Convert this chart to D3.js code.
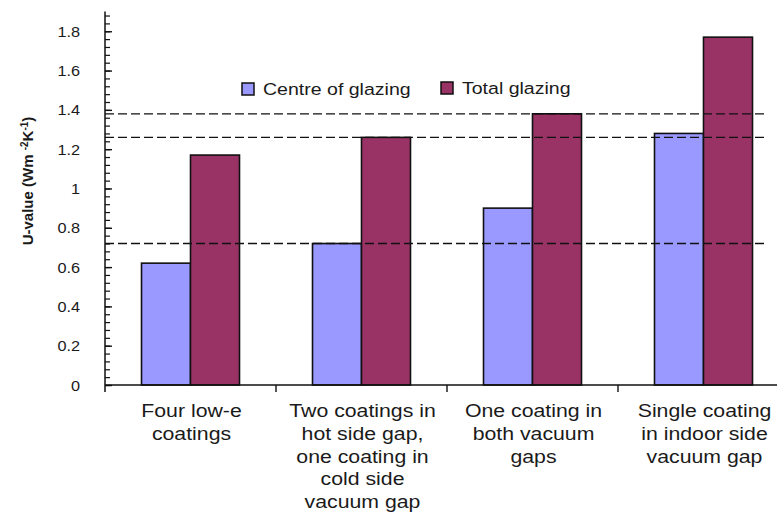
<!DOCTYPE html>
<html>
<head>
<meta charset="utf-8">
<script src="https://cdn.jsdelivr.net/npm/d3@7"></script>
<style>
  html, body { margin: 0; padding: 0; background: #fff; }
  svg { display: block; }
  text { font-family: "Liberation Sans", Arial, Helvetica, sans-serif; fill: #1a1a1a; }
</style>
</head>
<body>
<svg id="chart" width="777" height="514"></svg>
<script>
const categories = [
  ["Four low-e", "coatings"],
  ["Two coatings in", "hot side gap,", "one coating in", "cold side", "vacuum gap"],
  ["One coating in", "both vacuum", "gaps"],
  ["Single coating", "in indoor side", "vacuum gap"]
];
const seriesNames = ["Centre of glazing", "Total glazing"];
const centreValues = [0.62, 0.72, 0.90, 1.28];
const totalValues = [1.17, 1.26, 1.38, 1.77];
const referenceLines = [0.72, 1.26, 1.38];
const yTicks = [0, 0.2, 0.4, 0.6, 0.8, 1, 1.2, 1.4, 1.6, 1.8];
const colors = ["#9999FF", "#993366"];

const svg = d3.select("#chart");
const mLeft = 105, mBottom = 385, mTop = 11.6;
const catIdx = d3.range(categories.length);

const y = d3.scaleLinear().domain([0, 1.9]).range([mBottom, mTop]);
const x = d3.scaleBand().domain(catIdx).range([mLeft, mLeft + 4 * 171]).padding(0);
const xs = d3.scaleBand().domain([0, 1]).range([0, x.bandwidth()]).paddingInner(0).paddingOuter(0.745);

// Bars
const data = catIdx.map(i => [centreValues[i], totalValues[i]]);
const groups = svg.append("g").selectAll("g").data(data).join("g")
  .attr("transform", (d, i) => `translate(${x(i)},0)`);
groups.selectAll("rect").data(d => d.map((v, s) => ({v, s}))).join("rect")
  .attr("x", d => xs(d.s))
  .attr("width", xs.bandwidth())
  .attr("y", d => y(d.v))
  .attr("height", d => y(0) - y(d.v))
  .attr("fill", d => colors[d.s])
  .attr("stroke", "#111")
  .attr("stroke-width", 1.6);

// Reference dashed lines
svg.append("g").selectAll("line").data(referenceLines).join("line")
  .attr("x1", mLeft).attr("x2", 768)
  .attr("y1", d => y(d)).attr("y2", d => y(d))
  .attr("stroke", "#111").attr("stroke-width", 1.3)
  .attr("stroke-dasharray", "9,4");

// Y axis: minor ticks inside
const minor = d3.range(0, 1.9001, 0.04);
const yAxisG = svg.append("g").attr("transform", `translate(${mLeft},0)`);
yAxisG.call(d3.axisRight(y).tickValues(minor).tickSize(5).tickFormat(""));
yAxisG.select(".domain").remove();
yAxisG.selectAll("line").attr("stroke", "#111").attr("stroke-width", 1.2);
const yMajor = svg.append("g").attr("transform", `translate(${mLeft},0)`);
yMajor.call(d3.axisRight(y).tickValues(yTicks).tickSize(7).tickFormat(""));
yMajor.select(".domain").remove();
yMajor.selectAll("line").attr("stroke", "#111").attr("stroke-width", 1.4);
svg.append("line").attr("x1", mLeft).attr("x2", mLeft).attr("y1", mTop).attr("y2", mBottom + 7)
  .attr("stroke", "#111").attr("stroke-width", 1.5);
svg.append("g").selectAll("text").data(yTicks).join("text")
  .attr("transform", d => `translate(80,${y(d)}) scale(1.05,1)`).attr("dy", "0.36em")
  .attr("text-anchor", "end").attr("font-size", 15.5)
  .text(d => d3.format("")(d));

// X axis
const xAxisG = svg.append("g").attr("transform", `translate(0,${mBottom})`);
xAxisG.append("line").attr("x1", mLeft).attr("x2", 777).attr("y1", 0).attr("y2", 0)
  .attr("stroke", "#111").attr("stroke-width", 1.5);
xAxisG.selectAll("line.tick").data(catIdx.slice(1)).join("line").attr("class", "tick")
  .attr("x1", d => x(d)).attr("x2", d => x(d)).attr("y1", 0).attr("y2", 7)
  .attr("stroke", "#111").attr("stroke-width", 1.4);

// Category labels
const catG = svg.append("g").selectAll("text").data(categories).join("text")
  .attr("text-anchor", "middle").attr("font-size", 18.5)
  .attr("transform", (d, i) => `translate(${x(i) + x.bandwidth() / 2 + 1},417) scale(1.15,1)`);
catG.selectAll("tspan").data(d => d).join("tspan")
  .attr("x", 0).attr("y", (d, j) => j * 22.8).text(d => d);

// Legend
const legendPos = [[242, 83], [441, 82]];
const leg = svg.append("g").selectAll("g").data(seriesNames).join("g")
  .attr("transform", (d, i) => `translate(${legendPos[i][0]},${legendPos[i][1]})`);
leg.append("rect").attr("width", 12).attr("height", 12)
  .attr("fill", (d, i) => colors[i]).attr("stroke", "#111").attr("stroke-width", 1.5);
leg.append("text").attr("transform", "translate(21,6) scale(1.15,1)").attr("dy", "0.36em")
  .attr("font-size", 17).text(d => d);

// Y axis title
const yt = svg.append("text").attr("transform", "translate(33,181) rotate(-90)")
  .attr("text-anchor", "middle").attr("font-size", 15).attr("font-weight", "bold");
yt.append("tspan").text("U-value (Wm ");
yt.append("tspan").attr("font-size", 10).attr("dy", "-0.5em").text("-2");
yt.append("tspan").attr("dy", "0.32em").text("K");
yt.append("tspan").attr("font-size", 10).attr("dy", "-0.5em").text("-1");
yt.append("tspan").attr("dy", "0.32em").text(")");
</script>
</body>
</html>
